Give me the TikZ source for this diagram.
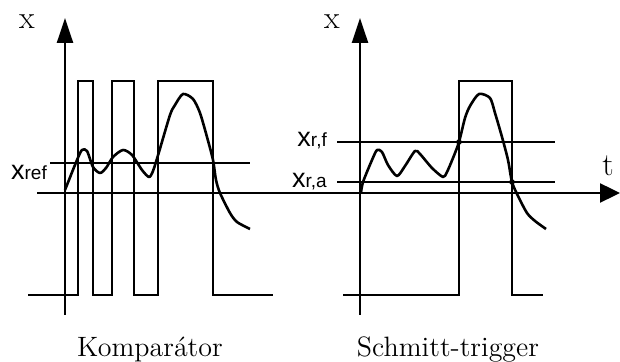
\documentclass[tikz,border=0pt]{standalone}
\usepackage{fontspec}
\newfontfamily\levelfont{Liberation Sans}
\usetikzlibrary{arrows.meta}
\newcommand{\levelname}[1]{{\levelfont\fontsize{13.5}{15}\selectfont x\fontsize{9.5}{11}\selectfont #1}}

\begin{document}
\begin{tikzpicture}[
    x=0.5pt, y=-0.5pt,
    line width=1.2pt,
    xaxis/.style={-{Triangle[length=12.5pt,width=8pt]}},
    taxis/.style={-{Triangle[length=10pt,width=9.5pt]}},
    signal/.style={line width=1.3pt, line join=round},
    axlabel/.style={font=\fontsize{16}{18}\selectfont, inner sep=0pt},
    caption/.style={font=\fontsize{14}{16}\selectfont, inner sep=0pt, anchor=base},
    level/.style={inner sep=0pt, anchor=base east}
]
\useasboundingbox (0,0) rectangle (620,362);

% common time axis
\coordinate (t0) at (37,193);
\coordinate (tend) at (620,193);
\draw[taxis] (t0) -- (tend);
\node[axlabel] (tlab) at (608,166) {t};

% Komparator
\coordinate (k0) at (65,315);
\coordinate (ktop) at (65,18);
\draw[xaxis] (k0) -- (ktop);
\node[axlabel] (kx) at (27,22) {x};

\coordinate (kref0) at (50,163);
\coordinate (kref1) at (250,163);
\draw (kref0) -- (kref1);
\node[level] (kref) at (48,180) {\levelname{ref}};

% output of the comparator
\draw (28,295) -- (78,295) -- (78,81) -- (93,81) -- (93,295) -- (112,295)
    -- (112,81) -- (134,81) -- (134,295) -- (158,295) -- (158,81)
    -- (213,81) -- (213,295) -- (273,295);

% input signal
\draw[signal] plot[smooth, tension=0.45] coordinates {
    (65,190) (77,160) (82,150) (87,151) (93,167) (100,173) (106,168)
    (113,157) (123,150) (132,155) (142,170) (149,177) (153,171)
    (159,152) (170,115) (175,105) (183,94) (193,99) (200,113)
    (207,137) (213,160) (216,180) (220,193) (230,213) (237,222) (250,229)};

\node[caption] (kcap) at (150,357) {Komparátor};

% Schmitt-trigger
\coordinate (s0) at (360,315);
\coordinate (stop) at (360,18);
\draw[xaxis] (s0) -- (stop);
\node[axlabel] (sx) at (332,22) {x};

\coordinate (sf0) at (337,142);
\coordinate (sf1) at (555,142);
\coordinate (sa0) at (337,182);
\coordinate (sa1) at (555,182);
\draw (sf0) -- (sf1);
\draw (sa0) -- (sa1);
\node[level] (sf) at (328,147) {\levelname{r,f}};
\node[level] (sa) at (328,188) {\levelname{r,a}};

% output of the trigger
\draw (343,295) -- (459,295) -- (459,81) -- (512,81) -- (512,295) -- (543,295);

% input signal
\draw[signal] plot[smooth, tension=0.45] coordinates {
    (361,193) (363,182) (372,160) (377,150) (382,152) (388,165)
    (397,176) (405,166) (415,151) (420,154) (432,168) (443,177)
    (447,172) (453,158) (459,142) (465,118) (470,106) (479,94)
    (490,98) (495,113) (502,137) (508,160) (512,182) (518,196)
    (527,213) (535,221) (546,229)};

% switching points
\fill (459,142) circle (1.4pt);
\fill (512,182) circle (1.4pt);

\node[caption] (scap) at (448,357) {Schmitt-trigger};

\end{tikzpicture}
\end{document}
